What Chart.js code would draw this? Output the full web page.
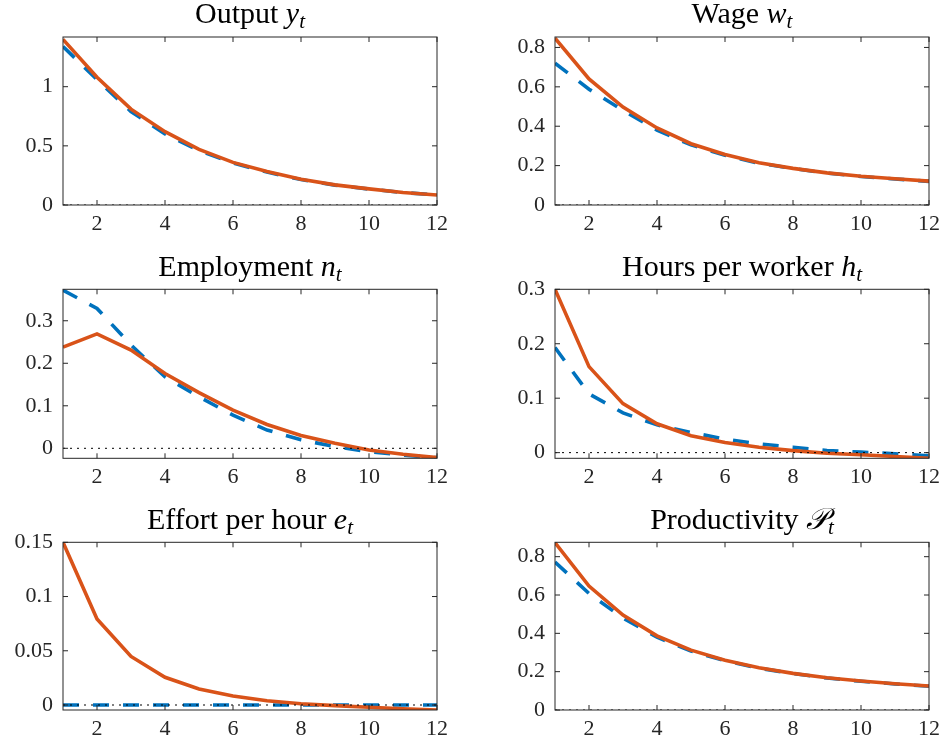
<!DOCTYPE html>
<html>
<head>
<meta charset="utf-8">
<script src="https://cdn.jsdelivr.net/npm/chart.js@4.4.1/dist/chart.umd.min.js"></script>
<style>
  body { margin: 0; background: #fff; }
  #wrap { position: relative; width: 946px; height: 748px; overflow: hidden; }
  #wrap canvas { position: absolute; }
</style>
</head>
<body>
<div id="wrap"></div>
<script>
const periods = [1, 2, 3, 4, 5, 6, 7, 8, 9, 10, 11, 12];
const xTickValues = [2, 4, 6, 8, 10, 12];

// red solid = with effort, blue dashed = without effort
const outputEffort = [1.40, 1.08, 0.81, 0.62, 0.47, 0.36, 0.283, 0.217, 0.170, 0.136, 0.106, 0.085];
const outputNoEffort = [1.34, 1.06, 0.79, 0.60, 0.46, 0.355, 0.278, 0.215, 0.168, 0.135, 0.105, 0.085];
const outputTicks = [0, 0.5, 1];

const wageEffort = [0.847, 0.640, 0.497, 0.391, 0.311, 0.256, 0.214, 0.186, 0.163, 0.146, 0.133, 0.121];
const wageNoEffort = [0.72, 0.588, 0.48, 0.38, 0.305, 0.253, 0.212, 0.185, 0.162, 0.145, 0.132, 0.120];
const wageTicks = [0, 0.2, 0.4, 0.6, 0.8];

const employmentEffort = [0.238, 0.269, 0.231, 0.176, 0.131, 0.090, 0.056, 0.030, 0.012, -0.004, -0.014, -0.022];
const employmentNoEffort = [0.372, 0.329, 0.243, 0.168, 0.121, 0.078, 0.043, 0.020, 0.004, -0.008, -0.016, -0.022];
const employmentTicks = [0, 0.1, 0.2, 0.3];

const hoursEffort = [0.30, 0.158, 0.090, 0.053, 0.031, 0.0185, 0.010, 0.0037, -0.001, -0.004, -0.007, -0.0104];
const hoursNoEffort = [0.193, 0.108, 0.073, 0.051, 0.037, 0.025, 0.016, 0.010, 0.004, 0.001, -0.002, -0.006];
const hoursTicks = [0, 0.1, 0.2, 0.3];

const effortEffort = [0.150, 0.0793, 0.0448, 0.0256, 0.0148, 0.0083, 0.004, 0.0012, -0.0006, -0.002, -0.0034, -0.0046];
const effortNoEffort = [0, 0, 0, 0, 0, 0, 0, 0, 0, 0, 0, 0];
const effortTicks = [0, 0.05, 0.1, 0.15];

const productivityEffort = [0.873, 0.647, 0.495, 0.387, 0.3125, 0.260, 0.220, 0.191, 0.168, 0.151, 0.137, 0.125];
const productivityNoEffort = [0.772, 0.608, 0.48, 0.38, 0.308, 0.257, 0.218, 0.190, 0.167, 0.150, 0.136, 0.124];
const productivityTicks = [0, 0.2, 0.4, 0.6, 0.8];

const SERIF = '"Liberation Serif", "Times New Roman", serif';
const AXIS_COLOR = "#262626";
const RED = "#D95319";
const BLUE = "#0072BD";

const cols = [
  { left: 0, width: 473, chartLeft: 63, chartRight: 437 },
  { left: 473, width: 473, chartLeft: 82, chartRight: 459 },
];
const rows = [
  { top: 0, height: 245, chartTop: 37, chartBottom: 205 },
  { top: 245, height: 255, chartTop: 44.3, chartBottom: 213.3 },
  { top: 500, height: 248, chartTop: 42.3, chartBottom: 210 },
];

const panels = [
  { col: 0, row: 0, title: [["Output ", "n"], ["y", "i"], ["t", "s"]], red: outputEffort, blue: outputNoEffort, ticks: outputTicks, min: 0, max: 1.42 },
  { col: 1, row: 0, title: [["Wage ", "n"], ["w", "i"], ["t", "s"]], red: wageEffort, blue: wageNoEffort, ticks: wageTicks, min: 0, max: 0.853 },
  { col: 0, row: 1, title: [["Employment ", "n"], ["n", "i"], ["t", "s"]], red: employmentEffort, blue: employmentNoEffort, ticks: employmentTicks, min: -0.0235, max: 0.374 },
  { col: 1, row: 1, title: [["Hours per worker ", "n"], ["h", "i"], ["t", "s"]], red: hoursEffort, blue: hoursNoEffort, ticks: hoursTicks, min: -0.0104, max: 0.3 },
  { col: 0, row: 2, title: [["Effort per hour ", "n"], ["e", "i"], ["t", "s"]], red: effortEffort, blue: effortNoEffort, ticks: effortTicks, min: -0.0046, max: 0.15 },
  { col: 1, row: 2, title: [["Productivity ", "n"], ["\u{1D4AB}", "i"], ["t", "s"]], red: productivityEffort, blue: productivityNoEffort, ticks: productivityTicks, min: 0, max: 0.875 },
];

function fontFor(kind) {
  if (kind === "n") return "30px " + SERIF;
  if (kind === "i") return "italic 30px " + SERIF;
  return "italic 21px " + SERIF;
}

// box, inward ticks, dotted zero line and the math title (MATLAB look)
const matlabAxes = {
  id: "matlabAxes",
  afterDatasetsDraw(chart) {
    const { ctx, chartArea: a, scales } = chart;
    const x = scales.x, y = scales.y;
    ctx.save();
    // zero line
    const y0 = y.getPixelForValue(0);
    ctx.beginPath();
    ctx.rect(a.left, a.top, a.right - a.left, a.bottom - a.top);
    ctx.clip();
    ctx.strokeStyle = "#000";
    ctx.lineWidth = 1;
    ctx.setLineDash([2, 5]);
    ctx.beginPath();
    ctx.moveTo(a.left, y0);
    ctx.lineTo(a.right, y0);
    ctx.stroke();
    ctx.restore();

    ctx.save();
    ctx.strokeStyle = AXIS_COLOR;
    ctx.lineWidth = 1;
    ctx.strokeRect(a.left, a.top, a.right - a.left, a.bottom - a.top);
    const len = 5;
    ctx.beginPath();
    x.ticks.forEach((t) => {
      const px = x.getPixelForValue(t.value);
      ctx.moveTo(px, a.bottom);
      ctx.lineTo(px, a.bottom - len);
      ctx.moveTo(px, a.top);
      ctx.lineTo(px, a.top + len);
    });
    y.ticks.forEach((t) => {
      const py = y.getPixelForValue(t.value);
      ctx.moveTo(a.left, py);
      ctx.lineTo(a.left + len, py);
      ctx.moveTo(a.right, py);
      ctx.lineTo(a.right - len, py);
    });
    ctx.stroke();
    ctx.restore();
  },
  afterDraw(chart) {
    const parts = chart.config.options.titleParts;
    const { ctx, chartArea: a } = chart;
    ctx.save();
    ctx.fillStyle = "#000";
    ctx.textBaseline = "alphabetic";
    let total = 0;
    const widths = parts.map(([text, kind]) => {
      ctx.font = fontFor(kind);
      const w = ctx.measureText(text).width;
      total += w;
      return w;
    });
    let cx = (a.left + a.right) / 2 - total / 2;
    const base = a.top - 13.7;
    parts.forEach(([text, kind], i) => {
      ctx.font = fontFor(kind);
      ctx.fillText(text, cx, kind === "s" ? base + 5 : base);
      cx += widths[i];
    });
    ctx.restore();
  },
};

const wrap = document.getElementById("wrap");

panels.forEach((p) => {
  const c = cols[p.col];
  const r = rows[p.row];
  const canvas = document.createElement("canvas");
  canvas.width = c.width;
  canvas.height = r.height;
  canvas.style.left = c.left + "px";
  canvas.style.top = r.top + "px";
  canvas.style.width = c.width + "px";
  canvas.style.height = r.height + "px";
  wrap.appendChild(canvas);

  new Chart(canvas.getContext("2d"), {
    type: "line",
    data: {
      labels: periods,
      datasets: [
        {
          label: "Effort",
          data: periods.map((t, i) => ({ x: t, y: p.red[i] })),
          borderColor: RED,
          borderWidth: 3.6,
          pointRadius: 0,
          tension: 0,
          fill: false,
          clip: 0,
        },
        {
          label: "No effort",
          data: periods.map((t, i) => ({ x: t, y: p.blue[i] })),
          borderColor: BLUE,
          borderWidth: 3.6,
          borderDash: [16, 14],
          pointRadius: 0,
          tension: 0,
          fill: false,
          clip: 0,
        },
      ],
    },
    options: {
      titleParts: p.title,
      responsive: false,
      animation: false,
      devicePixelRatio: 1,
      layout: {
        padding: { left: 0, right: c.width - c.chartRight, top: r.chartTop, bottom: 0 },
      },
      plugins: {
        legend: { display: false },
        tooltip: { enabled: false },
        title: { display: false },
      },
      scales: {
        x: {
          type: "linear",
          min: 1,
          max: 12,
          afterBuildTicks: (s) => { s.ticks = xTickValues.map((v) => ({ value: v })); },
          afterFit: (s) => { s.height = r.height - r.chartBottom; },
          grid: { display: false, drawTicks: false },
          border: { display: false },
          ticks: {
            padding: 6,
            color: AXIS_COLOR,
            font: { family: SERIF, size: 22 },
            callback: (v) => String(v),
          },
        },
        y: {
          type: "linear",
          min: p.min,
          max: p.max,
          afterBuildTicks: (s) => { s.ticks = p.ticks.map((v) => ({ value: v })); },
          afterFit: (s) => { s.width = c.chartLeft; },
          grid: { display: false, drawTicks: false },
          border: { display: false },
          ticks: {
            padding: 10,
            color: AXIS_COLOR,
            font: { family: SERIF, size: 22 },
            callback: (v) => String(v),
          },
        },
      },
    },
    plugins: [matlabAxes],
  });
});
</script>
</body>
</html>
